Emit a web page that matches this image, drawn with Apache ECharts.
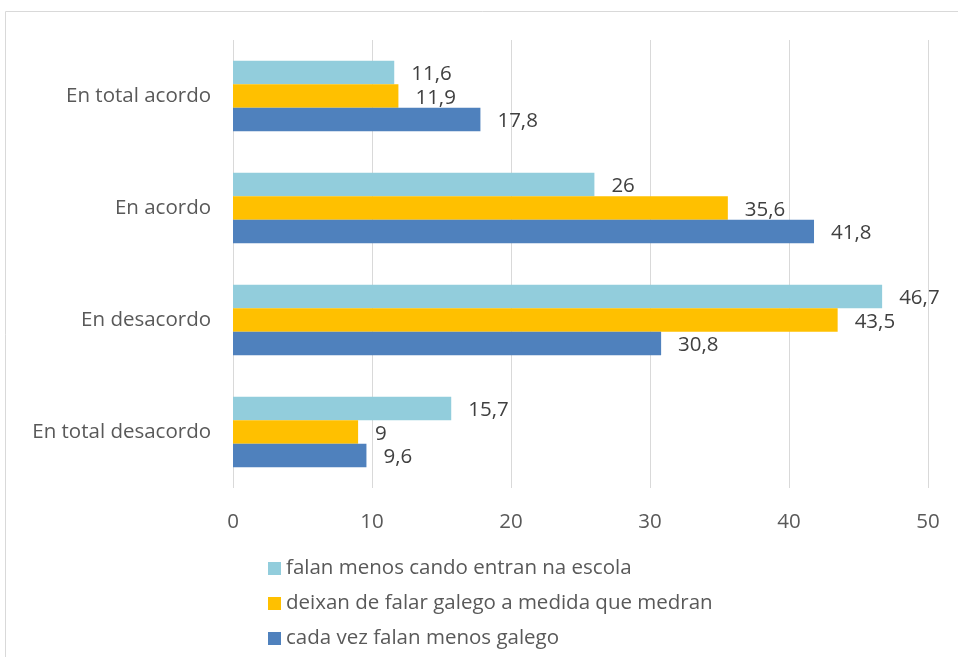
<!DOCTYPE html>
<html>
<head>
<meta charset="utf-8">
<script src="https://cdn.jsdelivr.net/npm/echarts@6/dist/echarts.min.js"></script>
<style>
  html, body { margin: 0; padding: 0; background: #fff; }
  #chart { width: 958px; height: 657px; }
</style>
</head>
<body>
<div id="chart"></div>
<script>
// Categorías (de abaixo a arriba no eixo)
const categories = ['En total desacordo', 'En desacordo', 'En acordo', 'En total acordo'];

// Valores de cada serie
const escolaValues = [15.7, 46.7, 26, 11.6];
const medranValues = [9, 43.5, 35.6, 11.9];
const menosValues = [9.6, 30.8, 41.8, 17.8];

const seriesNames = [
    'falan menos cando entran na escola',
    'deixan de falar galego a medida que medran',
    'cada vez falan menos galego'
];

const xTicks = { min: 0, max: 50, interval: 10 };

const font = '"Open Sans", sans-serif';
const chart = echarts.init(document.getElementById('chart'));

function labelCfg() {
    return {
        show: true,
        position: 'right',
        distance: 17,
        offset: [0, 2],
        color: '#404040',
        fontSize: 20.5,
        fontFamily: font,
        formatter: p => String(p.value).replace('.', ',')
    };
}

const option = {
    animation: false,
    graphic: [{
        type: 'rect',
        shape: { x: 5.5, y: 11.5, width: 1000, height: 700 },
        style: { fill: 'none', stroke: '#d9d9d9', lineWidth: 1 }
    }],
    grid: { left: 233, right: 30, top: 40, bottom: 169 },
    legend: {
        orient: 'vertical',
        left: 263,
        top: 553,
        itemWidth: 13,
        itemHeight: 13,
        itemGap: 14,
        icon: 'rect',
        data: seriesNames,
        textStyle: { color: '#595959', fontSize: 20.5, fontFamily: font }
    },
    xAxis: {
        type: 'value',
        min: xTicks.min,
        max: xTicks.max,
        interval: xTicks.interval,
        axisLine: { show: false },
        axisTick: { show: false },
        splitLine: { lineStyle: { color: '#d9d9d9', width: 1 } },
        axisLabel: { color: '#595959', fontSize: 20.5, fontFamily: font, margin: 24 }
    },
    yAxis: {
        type: 'category',
        data: categories,
        axisLine: { show: false },
        axisTick: { show: false },
        axisLabel: { color: '#595959', fontSize: 20.5, fontFamily: font, margin: 22 }
    },
    series: [
        {
            name: seriesNames[0],
            type: 'bar',
            data: escolaValues,
            barGap: '0%',
            barCategoryGap: '37%',
            itemStyle: { color: '#92cddc' },
            label: labelCfg()
        },
        {
            name: seriesNames[1],
            type: 'bar',
            data: medranValues,
            barGap: '0%',
            barCategoryGap: '37%',
            itemStyle: { color: '#ffc000' },
            label: labelCfg()
        },
        {
            name: seriesNames[2],
            type: 'bar',
            data: menosValues,
            barGap: '0%',
            barCategoryGap: '37%',
            itemStyle: { color: '#4f81bd' },
            label: labelCfg()
        }
    ]
};

chart.setOption(option);
</script>
</body>
</html>
